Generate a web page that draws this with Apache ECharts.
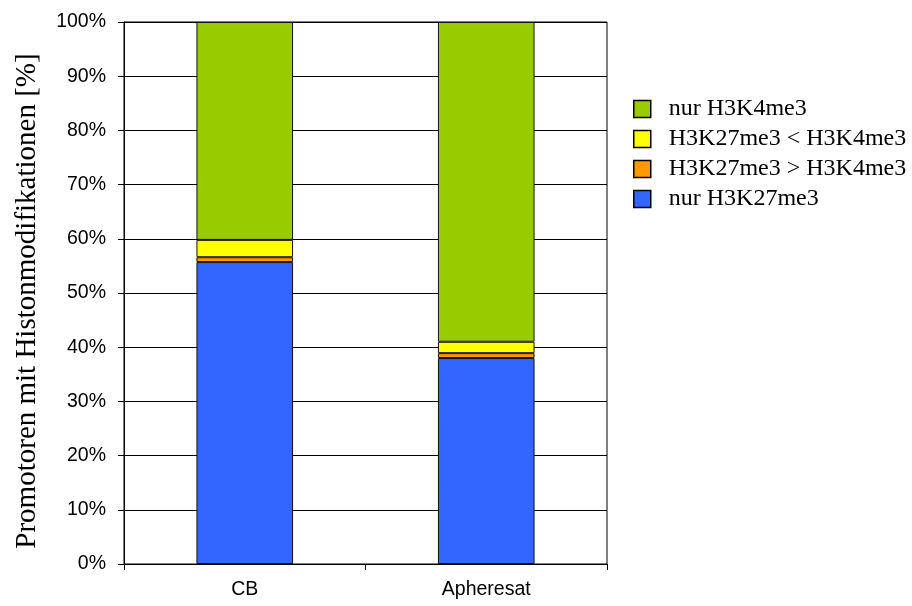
<!DOCTYPE html>
<html>
<head>
<meta charset="utf-8">
<script src="https://cdn.jsdelivr.net/npm/echarts@6/dist/echarts.min.js"></script>
<style>
  html, body { margin: 0; padding: 0; background: #fff; }
  #chart { width: 912px; height: 606px; }
</style>
</head>
<body>
<div id="chart"></div>
<script>
// Share of promoters per histone-modification class (percent)
const categories = ['CB', 'Apheresat'];
const nurH3K27me3 = [55.7, 38.0];
const k27GreaterK4 = [0.9, 0.9];
const k27LessK4 = [3.2, 2.1];
const nurH3K4me3 = [40.2, 59.0];

const seriesNames = ['nur H3K27me3', 'H3K27me3 > H3K4me3', 'H3K27me3 < H3K4me3', 'nur H3K4me3'];
const seriesValues = [nurH3K27me3, k27GreaterK4, k27LessK4, nurH3K4me3];
const seriesColors = ['#3366FF', '#FF9900', '#FFFF00', '#99CC00'];

const chart = echarts.init(document.getElementById('chart'));

chart.setOption({
  animation: false,
  backgroundColor: '#ffffff',
  grid: {
    left: 124, right: 305, top: 22, bottom: 42,
    show: true, borderColor: '#000', borderWidth: 1, backgroundColor: 'transparent'
  },
  legend: {
    orient: 'vertical',
    left: 633, top: 97,
    padding: 0,
    itemWidth: 17, itemHeight: 17,
    itemGap: 6,
    icon: 'rect',
    data: ['nur H3K4me3', 'H3K27me3 < H3K4me3', 'H3K27me3 > H3K4me3', 'nur H3K27me3'],
    textStyle: { fontFamily: 'Liberation Serif', fontSize: 24, color: '#000', padding: [0, 0, 0, 13] },
    itemStyle: { borderColor: '#000', borderWidth: 1.5 }
  },
  xAxis: {
    type: 'category',
    data: categories,
    axisLine: { lineStyle: { color: '#000', width: 1 } },
    axisTick: { show: true, length: 6, lineStyle: { color: '#000' } },
    axisLabel: { fontFamily: 'Liberation Sans', fontSize: 19.5, color: '#000', margin: 16 }
  },
  yAxis: {
    type: 'value',
    min: 0, max: 100, interval: 10,
    name: 'Promotoren mit Histonmodifikationen [%]',
    nameLocation: 'middle',
    nameGap: 82,
    nameTextStyle: { fontFamily: 'Liberation Serif', fontSize: 29, color: '#000', padding: [0, 16, 0, 0] },
    axisLine: { show: true, lineStyle: { color: '#000', width: 1 } },
    axisTick: { show: true, length: 6, lineStyle: { color: '#000' } },
    axisLabel: { formatter: '{value}%', fontFamily: 'Liberation Sans', fontSize: 19.5, color: '#000', margin: 18 },
    splitLine: { show: true, lineStyle: { color: '#000', width: 1 } }
  },
  series: seriesNames.map((name, i) => ({
    name: name,
    type: 'bar',
    stack: 'total',
    barWidth: '40%',
    data: seriesValues[i],
    itemStyle: { color: seriesColors[i], borderColor: '#111', borderWidth: 1 }
  }))
});
</script>
</body>
</html>
